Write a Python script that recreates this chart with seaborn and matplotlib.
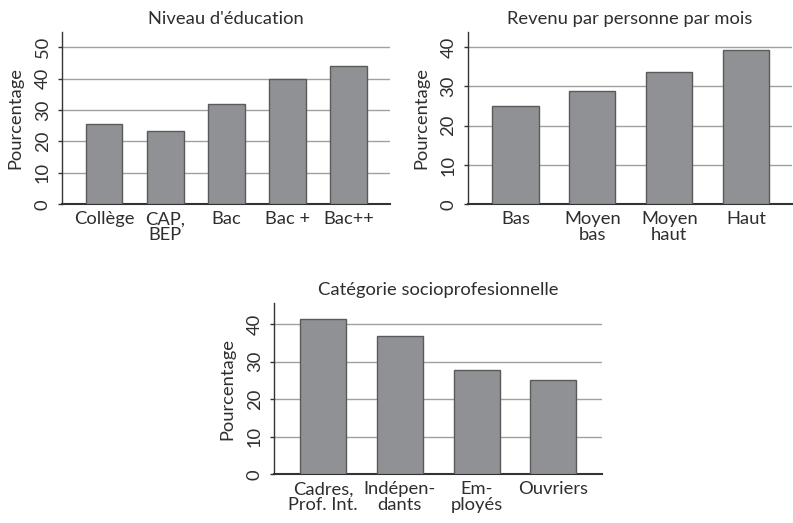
import matplotlib
matplotlib.use("Agg")
import matplotlib.pyplot as plt
import seaborn as sns
import pandas as pd

# ---- data ----
edu_cats = ["Collège", "CAP,\nBEP", "Bac", "Bac +", "Bac++"]
edu_vals = [25.6, 23.3, 31.8, 39.7, 43.9]

rev_cats = ["Bas", "Moyen\nbas", "Moyen\nhaut", "Haut"]
rev_vals = [24.9, 28.7, 33.6, 39.3]

csp_cats = ["Cadres,\nProf. Int.", "Indépen-\ndants", "Em-\nployés", "Ouvriers"]
csp_vals = [41.2, 36.8, 27.8, 25.1]

titles = ["Niveau d'éducation", "Revenu par personne par mois", "Catégorie socioprofesionnelle"]
ylabel = "Pourcentage"

sns.set_theme(style="white")
plt.rcParams['font.family'] = ['Lato', 'DejaVu Sans']

W, H = 793, 523
fig = plt.figure(figsize=(W / 100, H / 100), dpi=100)

BAR = "#909195"
EDGE = "#5a5a5a"
TXT = "#2e2e2e"
FS = 13.2


def make_ax(l, r, t, b):
    return fig.add_axes([l / W, (H - b) / H, (r - l) / W, (b - t) / H])


def draw(ax, cats, vals, title, ymax, yticks, xlim):
    df = pd.DataFrame({"cat": cats, "val": vals})
    sns.barplot(data=df, x="cat", y="val", color=BAR, width=0.6,
                edgecolor=EDGE, linewidth=1.0, saturation=1, ax=ax, zorder=3)
    for yv in yticks[1:]:
        ax.axhline(yv, color="#a0a0a0", lw=1.0, zorder=1)
    ax.set_ylim(0, ymax)
    ax.set_xlim(*xlim)
    ax.set_yticks(yticks)
    ax.set_yticklabels([str(v) for v in yticks], rotation=90, va="center",
                       fontsize=FS, color=TXT)
    ax.set_xticks(range(len(cats)))
    ax.set_xticklabels(cats, fontsize=FS, color=TXT, linespacing=1.0)
    ax.tick_params(axis="y", length=3, width=1, color="#333333", pad=5, left=True)
    ax.tick_params(axis="x", length=0, pad=5)
    ax.set_xlabel("")
    ax.set_ylabel(ylabel, fontsize=FS, color=TXT, labelpad=8)
    ax.set_title(title, fontsize=FS, color=TXT, pad=6)
    for s in ["top", "right"]:
        ax.spines[s].set_visible(False)
    ax.spines["left"].set_color("#333333")
    ax.spines["bottom"].set_color("#333333")
    ax.spines["left"].set_linewidth(1.0)
    ax.spines["bottom"].set_linewidth(1.5)
    ax.grid(False)


ax1 = make_ax(62, 390, 32, 204.3)
draw(ax1, edu_cats, edu_vals, titles[0], 54.8, [0, 10, 20, 30, 40, 50], (-0.69, 4.68))

ax2 = make_ax(467.7, 791.7, 32, 204.3)
draw(ax2, rev_cats, rev_vals, titles[1], 43.8, [0, 10, 20, 30, 40], (-0.62, 3.59))

ax3 = make_ax(274, 601.7, 303.3, 474.3)
draw(ax3, csp_cats, csp_vals, titles[2], 45.5, [0, 10, 20, 30, 40], (-0.64, 3.63))

fig.savefig("out.png", dpi=100, facecolor="white")
